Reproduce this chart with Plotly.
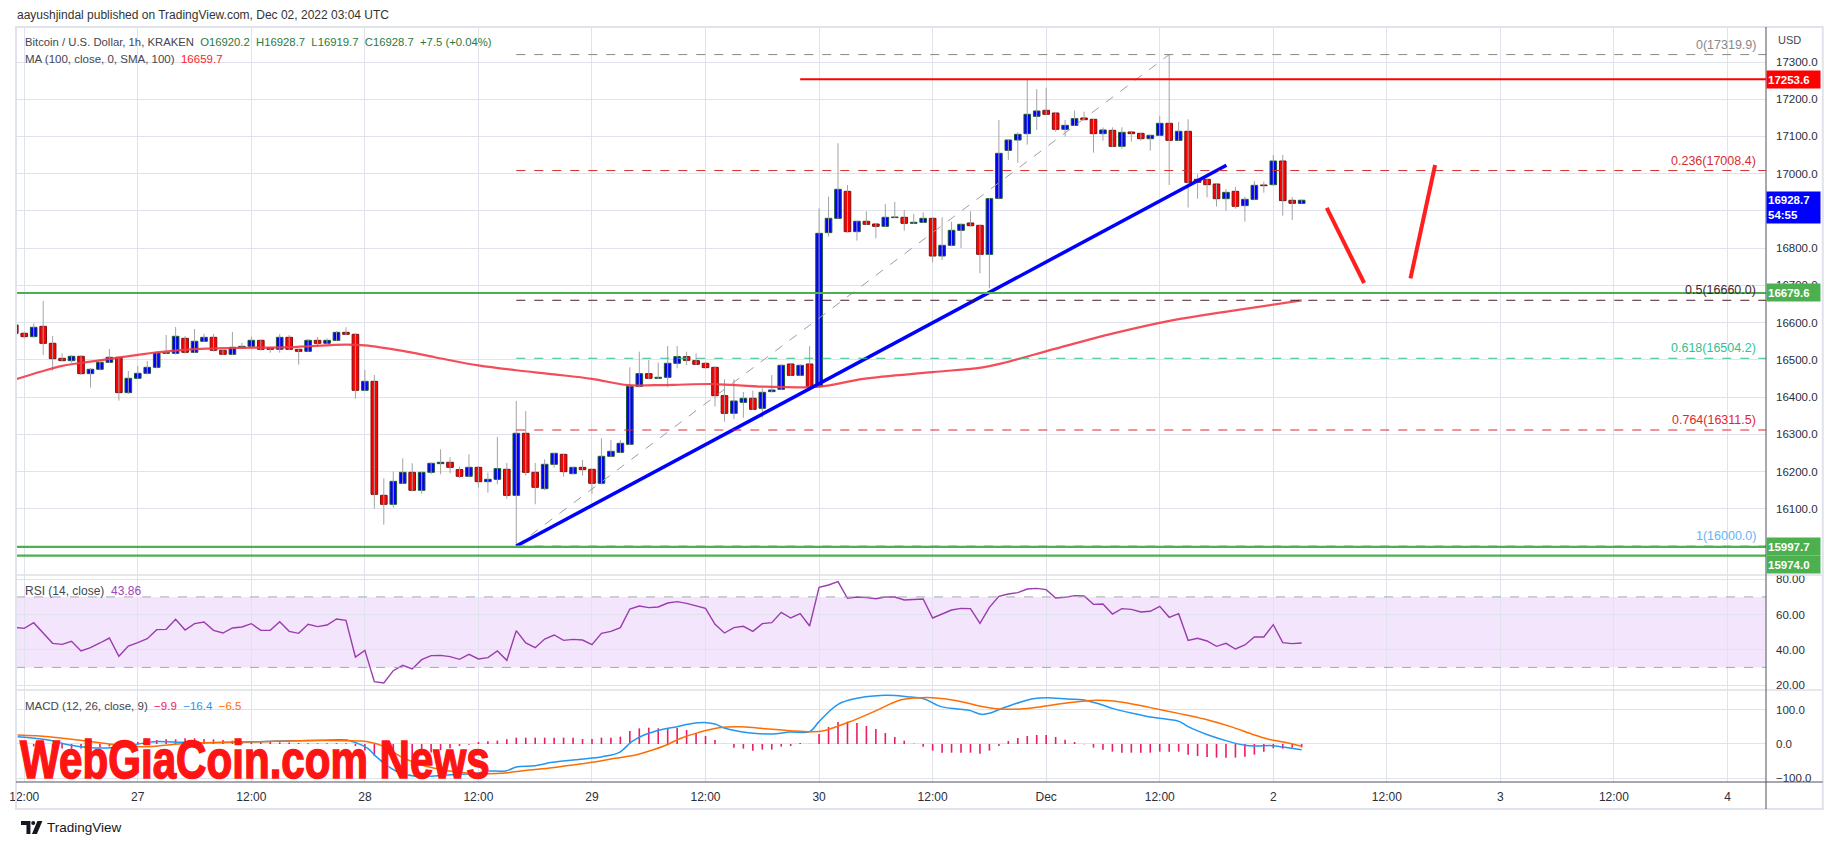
import plotly.graph_objects as go

# ---------------- data (hours after 2022-11-26 12:00 UTC) ----------------
hours = list(range(-1, 136))
opens = [16593.6, 16571.3, 16562.3, 16590.0, 16544.4, 16504.1, 16497.8, 16509.5, 16463.0, 16474.6,
         16493.4, 16506.8, 16411.9, 16450.4, 16463.8, 16479.9, 16517.5, 16517.5, 16557.8, 16520.2,
         16549.8, 16560.5, 16525.6, 16514.9, 16532.7, 16536.3, 16552.4, 16531.9, 16528.3, 16560.5,
         16528.3, 16522.9, 16552.4, 16544.4, 16552.4, 16573.9, 16568.6, 16418.2, 16442.3, 16136.1,
         16112.0, 16168.4, 16197.9, 16149.6, 16197.9, 16221.2, 16224.8, 16205.0, 16187.2, 16211.3,
         16172.8, 16179.1, 16206.0, 16136.1, 16302.7, 16197.9, 16154.0, 16219.4, 16246.2, 16194.3,
         16211.3, 16206.0, 16168.4, 16240.9, 16251.6, 16273.1, 16428.9, 16462.9, 16450.4, 16453.1,
         16490.7, 16508.6, 16497.8, 16490.7, 16479.9, 16403.8, 16356.4, 16385.9, 16396.7, 16369.8,
         16414.6, 16420.8, 16488.9, 16458.4, 16488.9, 16428.0, 16841.6, 16880.1, 16952.6, 16844.3,
         16872.1, 16864.9, 16858.6, 16882.0, 16882.8, 16866.7, 16869.4, 16880.1, 16778.9, 16807.6,
         16847.9, 16867.6, 16861.3, 16783.4, 16933.8, 17062.7, 17090.5, 17107.5, 17154.1, 17170.2,
         17163.0, 17119.2, 17129.9, 17149.6, 17146.0, 17107.5, 17116.5, 17073.5, 17112.0, 17108.4,
         17094.1, 17103.0, 17135.3, 17089.6, 17113.8, 16984.9, 16984.9, 16972.3, 16932.9, 16952.6,
         16914.2, 16931.1, 16969.6, 16970.5, 17034.1, 16928.5, 16920.2]
highs = [16600.0, 16575.7, 16598.1, 16658.1, 16564.0, 16517.5, 16513.0, 16512.0, 16478.1, 16495.0,
         16529.2, 16509.0, 16470.1, 16483.5, 16497.0, 16522.0, 16566.8, 16588.3, 16564.1, 16582.9,
         16569.5, 16569.5, 16527.0, 16574.8, 16545.3, 16562.3, 16554.0, 16533.0, 16569.5, 16566.8,
         16530.0, 16556.0, 16561.4, 16557.8, 16577.5, 16587.4, 16571.0, 16472.8, 16459.3, 16181.8,
         16199.7, 16235.5, 16222.1, 16200.0, 16224.0, 16259.7, 16238.2, 16213.1, 16246.3, 16214.0,
         16197.0, 16292.8, 16223.0, 16389.5, 16362.6, 16223.0, 16232.8, 16251.0, 16248.0, 16213.0,
         16231.0, 16208.0, 16289.2, 16284.8, 16284.8, 16479.9, 16522.0, 16499.6, 16492.5, 16537.2,
         16537.2, 16522.0, 16517.5, 16493.0, 16482.0, 16447.7, 16447.7, 16413.6, 16417.2, 16423.5,
         16459.3, 16488.0, 16492.0, 16488.0, 16537.2, 16907.0, 16938.3, 17081.5, 16969.6, 16874.0,
         16898.9, 16867.0, 16918.6, 16924.0, 16902.5, 16891.8, 16896.2, 16882.0, 16882.8, 16871.2,
         16866.0, 16898.9, 16863.0, 16935.0, 17144.2, 17092.0, 17111.1, 17253.6, 17227.5, 17231.1,
         17165.0, 17144.2, 17169.3, 17166.6, 17148.0, 17124.5, 17124.5, 17124.5, 17113.0, 17110.0,
         17105.0, 17155.0, 17319.9, 17138.9, 17146.0, 16998.3, 16987.0, 16974.0, 16958.9, 16964.3,
         16938.3, 16980.4, 16978.6, 17050.2, 17050.2, 16936.5, 16928.7]
lows = [16565.0, 16557.8, 16560.0, 16513.1, 16471.0, 16496.0, 16492.5, 16459.3, 16425.3, 16472.0,
        16491.0, 16390.4, 16408.0, 16448.0, 16461.0, 16477.0, 16515.0, 16514.0, 16517.0, 16518.0,
        16548.0, 16522.0, 16513.0, 16513.0, 16531.0, 16535.0, 16524.7, 16519.3, 16519.3, 16526.0,
        16487.1, 16521.0, 16535.4, 16543.0, 16551.0, 16566.0, 16395.8, 16416.0, 16100.3, 16057.3,
        16103.0, 16166.0, 16147.0, 16140.6, 16192.5, 16192.5, 16195.2, 16181.8, 16184.5, 16156.7,
        16143.3, 16165.7, 16126.3, 16000.0, 16189.0, 16112.0, 16150.0, 16210.4, 16186.3, 16192.0,
        16189.0, 16140.0, 16165.0, 16239.0, 16250.0, 16271.0, 16426.0, 16448.0, 16449.0, 16426.2,
        16477.2, 16486.2, 16486.0, 16477.0, 16374.3, 16334.0, 16340.3, 16344.7, 16365.0, 16344.7,
        16413.0, 16419.0, 16456.0, 16456.0, 16425.0, 16425.0, 16830.9, 16878.0, 16842.0, 16820.1,
        16862.0, 16826.4, 16857.0, 16881.0, 16847.0, 16865.0, 16868.0, 16761.9, 16768.2, 16805.0,
        16800.4, 16858.0, 16732.4, 16692.1, 16931.0, 17036.8, 17029.6, 17078.0, 17117.4, 17157.0,
        17112.9, 17099.5, 17128.0, 17143.0, 17056.5, 17088.7, 17071.0, 17067.2, 17086.0, 17088.7,
        17061.9, 17101.0, 16969.6, 17088.0, 16908.8, 16932.9, 16936.5, 16911.5, 16900.7, 16906.1,
        16871.2, 16929.0, 16949.0, 16968.0, 16887.3, 16875.6, 16919.7]
closes = [16571.3, 16562.3, 16587.4, 16544.4, 16503.2, 16497.8, 16509.5, 16463.0, 16474.6, 16493.4,
          16506.8, 16411.9, 16450.4, 16463.8, 16479.9, 16518.4, 16519.3, 16563.2, 16520.2, 16549.8,
          16560.5, 16525.6, 16514.9, 16533.6, 16536.3, 16552.4, 16528.3, 16528.3, 16560.5, 16528.3,
          16522.9, 16552.4, 16544.4, 16552.4, 16573.9, 16568.6, 16418.2, 16442.3, 16138.8, 16112.0,
          16173.7, 16197.9, 16149.6, 16197.9, 16222.1, 16224.8, 16211.3, 16187.2, 16211.3, 16172.8,
          16179.1, 16207.8, 16136.1, 16302.7, 16197.9, 16157.6, 16219.4, 16248.9, 16199.7, 16211.3,
          16205.0, 16168.4, 16240.9, 16254.3, 16275.8, 16428.9, 16462.9, 16450.4, 16453.1, 16490.7,
          16508.6, 16498.7, 16488.0, 16479.0, 16403.8, 16356.4, 16389.5, 16396.7, 16367.1, 16412.8,
          16419.0, 16485.3, 16458.4, 16485.3, 16428.0, 16839.8, 16880.1, 16958.0, 16844.3, 16872.1,
          16864.0, 16858.6, 16882.8, 16883.7, 16866.7, 16869.4, 16880.1, 16778.9, 16807.6, 16847.9,
          16864.0, 16860.4, 16783.4, 16932.9, 17054.7, 17090.5, 17105.7, 17159.5, 17168.4, 17159.5,
          17119.2, 17129.9, 17147.8, 17145.1, 17107.5, 17117.4, 17073.5, 17111.1, 17107.5, 17094.1,
          17103.0, 17135.3, 17089.6, 17113.8, 16976.8, 16976.8, 16970.5, 16932.9, 16949.9, 16912.4,
          16931.1, 16968.7, 16967.8, 17034.1, 16927.6, 16920.5, 16928.7]

ma_hours = [-0.8, 1.7, 4, 7, 10, 14, 18, 22.7, 28, 34, 36, 40, 43.4, 48, 52, 56, 60, 63.8, 66.6,
            68.7, 72.9, 78.2, 84, 88.7, 96, 101.3, 103.4, 109, 115.1, 121.3, 127.4, 135]
ma_vals = [16448.6, 16468, 16484, 16495, 16506, 16520, 16529, 16532, 16534, 16541, 16539, 16524,
           16507, 16485, 16472, 16461, 16449, 16432, 16432, 16433, 16435, 16428, 16428, 16449, 16467,
           16480, 16491, 16530, 16571, 16606, 16631, 16659.7]

rsi_vals = [52.75, 52.18, 55.39, 49.34, 43.67, 43.10, 44.80, 39.32, 41.21, 43.86, 46.69, 36.29, 42.16,
            44.05, 46.32, 51.42, 51.61, 57.29, 51.23, 54.83, 55.77, 51.04, 49.53, 52.37, 52.94, 54.83,
            51.04, 51.04, 55.96, 50.48, 49.34, 54.45, 53.13, 54.07, 57.48, 56.72, 35.91, 39.70, 21.92,
            21.16, 28.16, 31.19, 29.11, 34.40, 36.67, 36.86, 36.10, 34.59, 37.43, 34.78, 35.54, 39.32,
            34.02, 50.86, 43.86, 41.21, 46.13, 48.40, 45.37, 45.94, 45.56, 42.91, 49.34, 50.48, 52.56,
            63.15, 64.85, 63.91, 64.28,
            66.55, 67.31, 66.36, 65.04, 63.53, 54.45, 49.53, 52.56, 53.31, 50.48, 54.83, 55.39, 61.26,
            58.04, 60.50, 53.50, 75.44, 76.77, 78.66, 69.20, 69.96, 69.58, 69.01, 69.96, 69.96, 68.26,
            68.44, 68.82, 58.04, 60.12, 62.58, 63.53, 63.34, 55.02, 64.09, 70.34, 71.66, 72.42, 74.50,
            74.87, 74.12, 69.39, 69.77, 70.71, 70.52, 65.80, 65.99, 60.31, 63.34, 62.96, 61.45, 61.83,
            64.66, 58.42, 60.50, 45.37, 46.51, 45.00, 41.97, 43.67, 40.45, 42.72, 47.26, 47.26, 54.26,
            44.05, 43.48, 43.86]

macd_hist = [-3, -5, -7, -9, -12, -13, -14, -13, -12, -10, -7, -4, 2, 6, 9.7, 11.6, 13.5, 13.5, 16.5,
             16.5, 14.5, 13.5, 11.6, 9.7, 8.7, 7.7, 6.8, 5.8, 5, 4, 3, 2.5, 2, 2, 2.5, 2,
             -6, -19, -35, -55, -55, -52, -40, -33, -25, -18, -12, -6, -2,
             5.8, 7.7, 9.7, 13.5, 18.4, 18.4, 18.4, 18.4, 18.4, 18.4, 18.4, 14.5, 14.5, 18.4, 18.4,
             21.3, 37.8, 45.5, 47.4, 45.5,
             45.5, 46.5, 40.7, 32.0, 23.2, 11.6, 0.3, -10.6, -13.5, -19.3,
             -16.4, -16.4, -7.7, -5.8, 3.0, 0.5, 29.0, 49.4, 63.9, 64.9,
             61.0, 52.3, 43.6, 32.0, 20.4, 9.7, 1.0, -7.7, -19.3, -25.1,
             -25.1, -25.1, -25.1, -28.0, -19.3, -5.8, 8.7, 17.4, 23.2, 26.2,
             26.2, 20.4, 12.6, 5.8, -0.9, -10.6, -16.4, -22.2, -25.1, -25.1,
             -25.1, -25.1, -22.2, -22.2, -22.2, -30.9, -34.8, -37.7, -39.6, -39.6,
             -39.6, -36.7, -30.9, -22.2, -12.5, -13.5, -10.6, -9.9]

macd_hours = [-0.7, 2.6, 4.8, 7.0, 9.3, 11.5, 13.7, 16.8, 19.4, 22.1, 24.8, 27.0, 29.2, 31.4, 34.1,
              35.2, 36.3, 37.2, 38.5, 39.8, 41.2, 42.5, 44.3, 46.0, 47.8, 49.1, 50.9, 52.0, 54.0,
              55.8, 58.0, 59.8, 61.1, 62.9, 64.2, 65.5, 67.3, 69.0, 70.3, 72.1, 73.0, 73.9, 76.5,
              79.0, 81.0, 83.0, 84.0, 86.0, 88.0, 89.8, 91.1, 93.3, 95.1, 96.9, 98.7, 100.0, 101.1,
              102.0, 103.1, 104.9, 106.6, 108.1, 110.2, 112.0, 113.7, 115.1, 117.3, 119.0, 120.8,
              122.1, 123.0, 125.2, 127.0, 129.0, 130.1, 131.9, 133.2, 135.0]
macd_vals = [21.3, 11.6, -2.9, -10.6, -10.6, -2.9, 6.8, 4.9, 3.9, 4.9, 6.8, 8.8, 9.7, 10.7, 11.6,
             2.0, -12.5, -36.7, -65.8, -85.1, -92.8, -93.8, -90.9, -88.0, -85.1, -78.3, -78.3, -66.7,
             -62.9, -53.2, -46.4, -41.6, -36.7, -24.2, 6.8, 26.2, 41.6, 50.3, 58.1, 62.0, 58.1, 47.4,
             32.9, 29.1, 34.9, 35.8, 64.9, 115.2, 132.6, 139.4, 141.3, 137.4, 130.7, 108.4, 101.6,
             96.8, 86.1, 89.1, 100.7, 118.1, 131.6, 134.5, 130.7, 127.8, 115.2, 102.6, 88.1, 78.4,
             71.6, 64.9, 50.3, 25.2, 9.7, -3.8, -5.8, -4.8, -9.6, -16.4]
signal_hours = [-0.7, 2.6, 5.7, 8.4, 10.6, 13.2, 15.9, 18.6, 21.2, 24.8, 29.2, 33.6, 36.3, 38.1, 39.8,
                42.0, 44.3, 46.5, 48.2, 50.5, 52.7, 55.8, 58.0, 60.2, 62.4, 64.6, 66.4, 67.6, 69.4,
                71.2, 73.4, 75.6, 77.8, 81.0, 83.2, 84.5, 87.1, 89.8, 92.5, 94.2, 96.0, 98.7, 101.3,
                103.1, 105.3, 107.5, 110.2, 113.3, 115.1, 116.4, 119.0, 122.1, 124.8, 127.5, 129.7,
                131.4, 133.2, 135.0]
signal_vals = [26.2, 21.3, 11.6, 2.0, -4.8, -7.7, -0.9, 3.9, 4.9, 6.8, 9.7, 9.7, 6.8, -7.7, -36.7,
               -60.9, -75.4, -83.2, -86.1, -85.1, -77.4, -68.7, -60.9, -52.2, -41.6, -31.9, -17.4,
               -5.8, 16.5, 33.0, 47.4, 50.3, 45.5, 38.7, 35.8, 38.7, 62.9, 93.9, 126.8, 133.6, 134.5,
               124.9, 108.4, 101.6, 101.6, 108.4, 119.0, 126.8, 124.9, 120.0, 105.5, 88.1, 71.6,
               50.3, 29.1, 14.5, 4.9, -6.5]

tick_hours = [0, 12, 24, 36, 48, 60, 72, 84, 96, 108, 120, 132, 144, 156, 168, 180]
tick_text = ["12:00", "27", "12:00", "28", "12:00", "29", "12:00", "30", "12:00", "Dec",
             "12:00", "2", "12:00", "3", "12:00", "4"]
price_ticks = [16000, 16100, 16200, 16300, 16400, 16500, 16600, 16700, 16800, 16900, 17000,
               17100, 17200, 17300]
price_hidden = [16000, 16900]   # covered by the axis price boxes in the original

support_levels = [16679.6, 15997.7, 15974.0]
resistance_level = 17253.6
resistance_start = 82
fib_start = 52
fib_labels = ["0", "0.236", "0.5", "0.618", "0.764", "1"]
fib_prices = [17319.9, 17008.4, 16660.0, 16504.2, 16311.5, 16000.0]
fib_colors = ["#888888", "#d32f2f", "#4a1c2e", "#2fbf95", "#e0262d", "#64b5f6"]
fib_diag_hours = [52, 121]
fib_diag_prices = [16000.0, 17319.9]
trend_hours = [52, 127.05]
trend_prices = [16000.0, 17022.5]
arrow1_hours = [137.65, 141.6]
arrow1_prices = [16907.9, 16706.4]
arrow2_hours = [146.5, 149.1]
arrow2_prices = [16718.8, 17023.4]

# ---------------- layout geometry ----------------
W, H = 1834, 845
ML, MR, MT, MB = 9, 68, 27, 63
PW = W - ML - MR
PH = H - MT - MB


def PX(px):
    return (px - ML) / PW


def PY(py):
    return (H - MB - py) / PH


X_RANGE = [-0.87, 184.07]
P_RANGE = [15922.1, 17394.0]
R_RANGE = [17.19, 82.44]
M_RANGE = [-110.3, 156.7]

FONT = "Liberation Sans, Arial, sans-serif"
TXT = "#2a2e39"
GRID = "#e0e3eb"

fig = go.Figure()

# wicks
wx, wy = [], []
for h, lo, hi in zip(hours, lows, highs):
    wx += [h, h, None]
    wy += [lo, hi, None]
fig.add_trace(go.Scatter(x=wx, y=wy, mode="lines", line=dict(color="#a3a3a3", width=1),
                         hoverinfo="skip", xaxis="x", yaxis="y"))

# bodies
bases = [min(o, c) for o, c in zip(opens, closes)]
heights = [abs(c - o) for o, c in zip(opens, closes)]
fills = ["#0000ff" if c >= o else "#ff0000" for o, c in zip(opens, closes)]
borders = ["#1d5b2c" if c >= o else "#7a1010" for o, c in zip(opens, closes)]
fig.add_trace(go.Bar(x=hours, y=heights, base=bases, width=0.7,
                     marker=dict(color=fills, line=dict(color=borders, width=1)),
                     hoverinfo="skip", xaxis="x", yaxis="y"))

# moving average
fig.add_trace(go.Scatter(x=ma_hours, y=ma_vals, mode="lines", line=dict(color="#f23a47", width=2.2, shape="spline"),
                         opacity=0.9, hoverinfo="skip", xaxis="x", yaxis="y"))

# fib diagonal
fig.add_trace(go.Scatter(x=fib_diag_hours, y=fib_diag_prices, mode="lines",
                         line=dict(color="#9e9e9e", width=1, dash="dash"), hoverinfo="skip",
                         xaxis="x", yaxis="y"))
# blue trend line
fig.add_trace(go.Scatter(x=trend_hours, y=trend_prices, mode="lines",
                         line=dict(color="#0000ff", width=3.5), hoverinfo="skip", xaxis="x", yaxis="y"))
# red arrows
for ah, ap in [(arrow1_hours, arrow1_prices), (arrow2_hours, arrow2_prices)]:
    fig.add_trace(go.Scatter(x=ah, y=ap, mode="lines", line=dict(color="#ff1f1f", width=4),
                             hoverinfo="skip", xaxis="x", yaxis="y"))

# RSI
fig.add_trace(go.Scatter(x=hours, y=rsi_vals, mode="lines", line=dict(color="#9c3bb0", width=1.4),
                         hoverinfo="skip", xaxis="x2", yaxis="y2"))

# MACD
fig.add_trace(go.Bar(x=hours, y=macd_hist, width=0.17, marker=dict(color="#ec1c66", line=dict(width=0)),
                     hoverinfo="skip", xaxis="x3", yaxis="y3"))
fig.add_trace(go.Scatter(x=macd_hours, y=macd_vals, mode="lines",
                         line=dict(color="#2196f3", width=1.5, shape="spline"), hoverinfo="skip",
                         xaxis="x3", yaxis="y3"))
fig.add_trace(go.Scatter(x=signal_hours, y=signal_vals, mode="lines",
                         line=dict(color="#ff6d00", width=1.5, shape="spline"), hoverinfo="skip",
                         xaxis="x3", yaxis="y3"))

shapes = []
# RSI band
shapes.append(dict(type="rect", xref="x2", yref="y2", x0=X_RANGE[0], x1=X_RANGE[1], y0=30, y1=70,
                   fillcolor="#f3e6fc", line=dict(width=0), layer="below"))
for lv in (30, 70):
    shapes.append(dict(type="line", xref="x2", yref="y2", x0=X_RANGE[0], x1=X_RANGE[1], y0=lv, y1=lv,
                       line=dict(color="#a7a9b0", width=1, dash="dash")))
# fib levels
for p, col in zip(fib_prices, fib_colors):
    shapes.append(dict(type="line", xref="x", yref="y", x0=fib_start, x1=X_RANGE[1], y0=p, y1=p,
                       line=dict(color=col, width=1, dash="dash")))
# support / resistance
for p in support_levels:
    shapes.append(dict(type="line", xref="x", yref="y", x0=X_RANGE[0], x1=X_RANGE[1], y0=p, y1=p,
                       line=dict(color="#4caf50", width=2.2)))
shapes.append(dict(type="line", xref="x", yref="y", x0=resistance_start, x1=X_RANGE[1],
                   y0=resistance_level, y1=resistance_level, line=dict(color="#ff0000", width=2.2)))

# frame and separators
XR = PX(1823)
shapes.append(dict(type="rect", xref="paper", yref="paper", x0=PX(9), x1=XR, y0=PY(809), y1=PY(27),
                   line=dict(color="#e0e3eb", width=2), layer="above"))
for sy in (575, 690):
    shapes.append(dict(type="line", xref="paper", yref="paper", x0=PX(9), x1=XR, y0=PY(sy), y1=PY(sy),
                       line=dict(color="#dfe1e8", width=1.5)))
shapes.append(dict(type="line", xref="paper", yref="paper", x0=PX(9), x1=XR, y0=PY(782), y1=PY(782),
                   line=dict(color="#50535e", width=1)))
shapes.append(dict(type="line", xref="paper", yref="paper", x0=PX(1766), x1=PX(1766), y0=PY(809), y1=PY(27),
                   line=dict(color="#50535e", width=1)))


# TradingView logo (footer)
def pth(pts):
    return "M " + " L ".join(f"{PX(x):.5f},{PY(y):.5f}" for x, y in pts) + " Z"


shapes.append(dict(type="path", xref="paper", yref="paper",
                   path=pth([(14, 821), (23.5, 821), (23.5, 834), (19.5, 834), (19.5, 825), (14, 825)]),
                   fillcolor="#131722", line=dict(width=0)))
shapes.append(dict(type="circle", xref="paper", yref="paper", x0=PX(24.3), x1=PX(28.3), y0=PY(825), y1=PY(821),
                   fillcolor="#131722", line=dict(width=0)))
shapes.append(dict(type="path", xref="paper", yref="paper",
                   path=pth([(30.5, 821), (35.5, 821), (30, 834), (25, 834)]),
                   fillcolor="#131722", line=dict(width=0)))

ann = []


def txt(x, y, text, size=12, color=TXT, xanchor="left", yanchor="middle", family=FONT, **kw):
    ann.append(dict(xref="paper", yref="paper", x=PX(x), y=PY(y), text=text, showarrow=False,
                    xanchor=xanchor, yanchor=yanchor, font=dict(family=family, size=size, color=color), **kw))


txt(8, 15, "aayushjindal published on TradingView.com, Dec 02, 2022 03:04 UTC", size=12, color="#333333")
txt(16, 42, "Bitcoin / U.S. Dollar, 1h, KRAKEN&nbsp;&nbsp;<span style='color:#2b7a3f'>O16920.2&nbsp;&nbsp;"
           "H16928.7&nbsp;&nbsp;L16919.7&nbsp;&nbsp;C16928.7&nbsp;&nbsp;+7.5 (+0.04%)</span>",
    size=11.3, color="#434651")
txt(16, 59, "MA (100, close, 0, SMA, 100)&nbsp;&nbsp;<span style='color:#ff1a1a'>16659.7</span>",
    size=11.5, color="#434651")
txt(16, 591, "RSI (14, close)&nbsp;&nbsp;<span style='color:#a242b5'>43.86</span>", size=12, color="#434651")
txt(16, 706, "MACD (12, 26, close, 9)&nbsp;&nbsp;<span style='color:#ec1c66'>−9.9</span>&nbsp;&nbsp;"
             "<span style='color:#2196f3'>−16.4</span>&nbsp;&nbsp;<span style='color:#ff6d00'>−6.5</span>",
    size=11.5, color="#434651")
txt(1776, 40, "USD", size=11, color="#434651")
txt(38, 828, "TradingView", size=13.5, color="#131722")

# watermark (bold condensed look via horizontal scaling in post_script)
txt(11, 759, "<b>WebGiaCoin.com News</b>", size=54, color="#ff1414", family="Liberation Sans, Arial, sans-serif")

# fib labels
for lab, p, col in zip(fib_labels, fib_prices, fib_colors):
    ann.append(dict(xref="paper", yref="y", x=PX(1758), y=p, text=f"{lab}({p:.1f})", showarrow=False,
                    xanchor="right", yanchor="bottom", yshift=1,
                    font=dict(family=FONT, size=12.5, color=col)))

# price boxes on the axis
boxes = [(resistance_level, f"{resistance_level:.1f}", "#ff0000", 0, 15),
         (closes[-1], f"{closes[-1]:.1f}<br>54:55", "#0000ff", -7, 29),
         (support_levels[0], f"{support_levels[0]:.1f}", "#4caf50", 0, 15),
         (support_levels[1], f"{support_levels[1]:.1f}", "#4caf50", 0, 15),
         (support_levels[2], f"{support_levels[2]:.1f}", "#4caf50", -9, 15)]
for p, t, col, ys, hh in boxes:
    ann.append(dict(xref="paper", yref="y", x=PX(1766), y=p, text=f"<b>{t}</b>", showarrow=False,
                    xanchor="left", yanchor="middle", yshift=ys, bgcolor=col, width=51, height=hh,
                    align="left", borderpad=1, font=dict(family=FONT, size=11.5, color="#ffffff")))

axis_common = dict(range=X_RANGE, tickmode="array", tickvals=tick_hours, showgrid=True, gridcolor=GRID,
                   gridwidth=1, zeroline=False, showline=False, fixedrange=True)
ytick_font = dict(family=FONT, size=11.5, color=TXT)

fig.update_layout(
    width=W, height=H, margin=dict(l=ML, r=MR, t=MT, b=MB, pad=0),
    paper_bgcolor="#ffffff", plot_bgcolor="#ffffff", showlegend=False, barmode="overlay",
    hovermode=False,
    xaxis=dict(anchor="y", domain=[0, 1], showticklabels=False, **axis_common),
    xaxis2=dict(anchor="y2", domain=[0, 1], showticklabels=False, **axis_common),
    xaxis3=dict(anchor="y3", domain=[0, 1], ticktext=tick_text, showticklabels=True, ticks="",
                ticklabelstandoff=6, tickfont=dict(family=FONT, size=12, color=TXT), **axis_common),
    yaxis=dict(domain=[PY(575), 1], range=P_RANGE, side="right", tickmode="array", tickvals=price_ticks,
               ticktext=["" if t in price_hidden else f"{t:.1f}" for t in price_ticks],
               showgrid=True, gridcolor=GRID, zeroline=False, ticks="", ticklabelstandoff=9,
               tickfont=ytick_font, fixedrange=True),
    yaxis2=dict(domain=[PY(690), PY(575)], range=R_RANGE, side="right", tickmode="array",
                tickvals=[20, 40, 60, 80], ticktext=["20.00", "40.00", "60.00", "80.00"],
                showgrid=True, gridcolor=GRID, zeroline=False, ticks="", ticklabelstandoff=9,
                tickfont=ytick_font, fixedrange=True),
    yaxis3=dict(domain=[0, PY(690)], range=M_RANGE, side="right", tickmode="array",
                tickvals=[-100, 0, 100], ticktext=["−100.0", "0.0", "100.0"],
                showgrid=True, gridcolor=GRID, zeroline=False, ticks="", ticklabelstandoff=9,
                tickfont=ytick_font, fixedrange=True),
    shapes=shapes, annotations=ann,
)

post = """
document.body.style.margin='0';document.body.style.overflow='hidden';
document.querySelectorAll('g.annotation text').forEach(function(t){
  if (t.textContent.indexOf('WebGiaCoin') >= 0) {
    t.style.transformBox = 'fill-box';
    t.style.transformOrigin = '0% 50%';
    t.style.transform = 'scaleX(0.78)';
    t.style.stroke = '#ff1414';
    t.style.strokeWidth = '1.6px';
  }
});
"""
fig.write_html("out.html", config={"displayModeBar": False, "staticPlot": True}, post_script=post)
